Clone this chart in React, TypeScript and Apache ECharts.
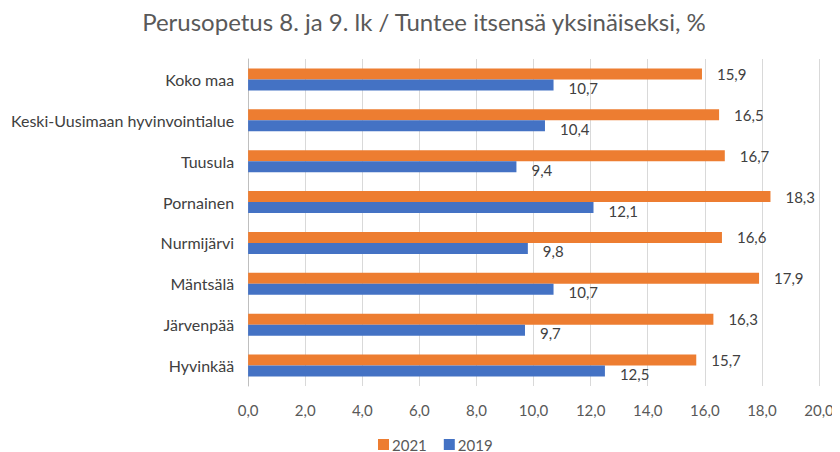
import React, { useEffect, useRef } from "react";
import * as echarts from "echarts";

const categories = [
  "Koko maa",
  "Keski-Uusimaan hyvinvointialue",
  "Tuusula",
  "Pornainen",
  "Nurmijärvi",
  "Mäntsälä",
  "Järvenpää",
  "Hyvinkää",
];
const values2021 = [15.9, 16.5, 16.7, 18.3, 16.6, 17.9, 16.3, 15.7];
const values2019 = [10.7, 10.4, 9.4, 12.1, 9.8, 10.7, 9.7, 12.5];
const titleText = "Perusopetus 8. ja 9. lk / Tuntee itsensä yksinäiseksi, %";

const FONT = "Lato";
const fmt = (v: number) => v.toFixed(1).replace(".", ",");

export default function App() {
  const ref = useRef<HTMLDivElement>(null);
  useEffect(() => {
    if (!ref.current) return;
    const chart = echarts.init(ref.current, null, { renderer: "svg" });
    chart.setOption({
      animation: false,
      backgroundColor: "#ffffff",
      textStyle: { fontFamily: FONT },
      title: {
        text: titleText,
        left: "center",
        top: -4,
        textStyle: { fontFamily: FONT, fontSize: 24, fontWeight: "normal", color: "#595959" },
      },
      legend: {
        bottom: 0,
        left: 370,
        padding: 0,
        itemWidth: 11,
        itemHeight: 11,
        itemGap: 17,
        icon: "rect",
        textStyle: { fontFamily: FONT, fontSize: 15, color: "#595959", padding: [0, 0, 0, -2] },
        data: ["2021", "2019"],
      },
      grid: { left: 240, right: 21, top: 51, bottom: 66, containLabel: false },
      xAxis: {
        type: "value",
        min: 0,
        max: 20,
        interval: 2,
        axisLine: { show: false },
        axisTick: { show: false },
        splitLine: { lineStyle: { color: "#d9d9d9" } },
        axisLabel: {
          formatter: (v: number) => fmt(v),
          fontFamily: FONT,
          fontSize: 15,
          color: "#595959",
          margin: 16,
        },
      },
      yAxis: {
        type: "category",
        data: categories,
        inverse: true,
        axisLine: { show: true, lineStyle: { color: "#bfbfbf" } },
        axisTick: { show: false },
        axisLabel: { fontFamily: FONT, fontSize: 16, color: "#404040", margin: 14 },
      },
      series: [
        {
          name: "2021",
          type: "bar",
          data: values2021,
          barWidth: 11,
          barGap: "0%",
          itemStyle: { color: "#ED7D31" },
          label: {
            show: true,
            position: "right",
            distance: 15,
            formatter: (p: any) => fmt(p.value),
            fontFamily: FONT,
            fontSize: 15,
            color: "#404040",
          },
        },
        {
          name: "2019",
          type: "bar",
          data: values2019,
          barWidth: 11,
          barGap: "0%",
          itemStyle: { color: "#4472C4" },
          label: {
            show: true,
            position: "right",
            distance: 15,
            offset: [0, 3],
            formatter: (p: any) => fmt(p.value),
            fontFamily: FONT,
            fontSize: 15,
            color: "#404040",
          },
        },
      ],
    });
    return () => chart.dispose();
  }, []);
  return <div ref={ref} style={{ width: 832, height: 444 }} />;
}
